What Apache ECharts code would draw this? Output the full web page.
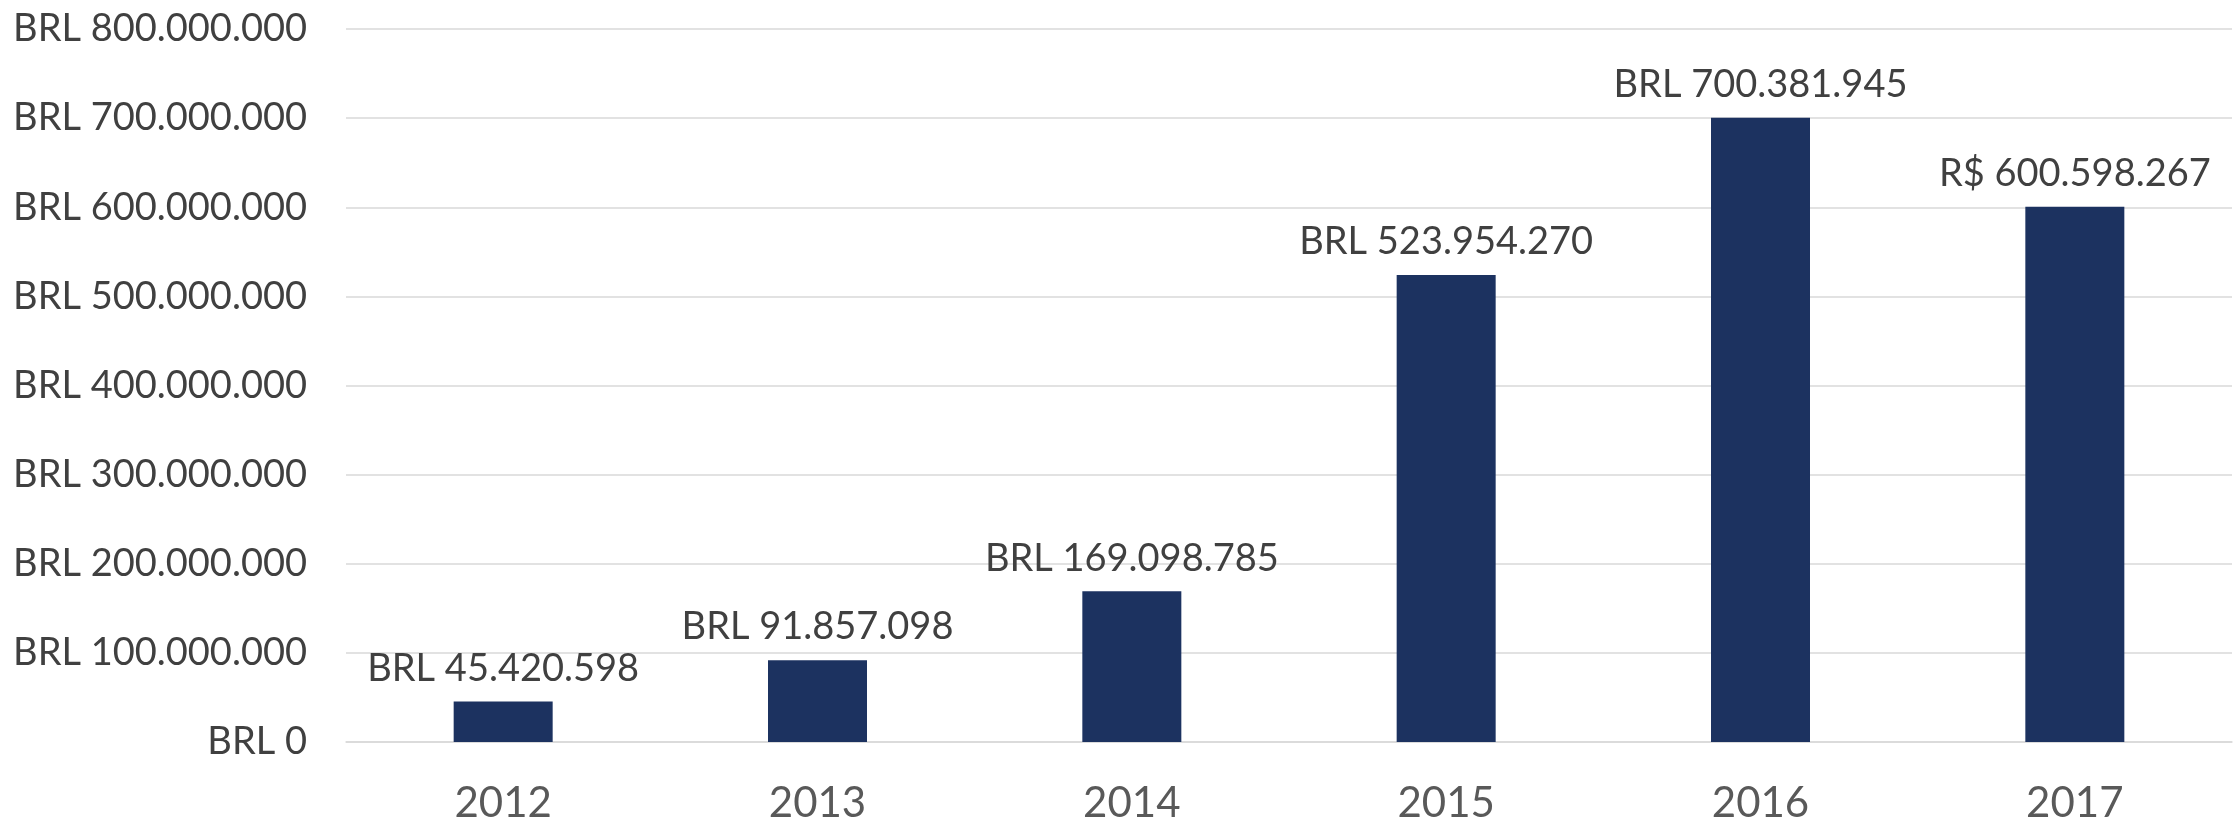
<!DOCTYPE html>
<html>
<head>
<meta charset="utf-8">
<script src="https://cdn.jsdelivr.net/npm/echarts@6/dist/echarts.min.js"></script>
<style>
html,body{margin:0;padding:0;background:#fff;}
#c{width:2237px;height:824px;}
</style>
</head>
<body>
<div id="c"></div>
<script>
var categories = ['2012', '2013', '2014', '2015', '2016', '2017'];
var values = [45420598, 91857098, 169098785, 523954270, 700381945, 600598267];
var labelPrefixes = ['BRL ', 'BRL ', 'BRL ', 'BRL ', 'BRL ', 'R$ '];
var yTickPrefix = 'BRL ';
var yMin = 0, yMax = 800000000, yStep = 100000000;

function fmt(n) {
  return String(Math.round(n)).replace(/\B(?=(\d{3})+(?!\d))/g, '.');
}

var chart = echarts.init(document.getElementById('c'), null, {renderer: 'canvas'});
chart.setOption({
  animation: false,
  backgroundColor: '#ffffff',
  textStyle: {fontFamily: 'Lato'},
  grid: {left: 346, right: 5, top: 29, bottom: 77, containLabel: false},
  xAxis: {
    type: 'category',
    data: categories,
    axisLine: {show: true, lineStyle: {color: '#d9d9d9', width: 1.5}},
    axisTick: {show: false},
    axisLabel: {color: '#595959', fontSize: 42, fontFamily: 'Lato', margin: 40}
  },
  yAxis: {
    type: 'value',
    min: yMin, max: yMax, interval: yStep,
    axisLine: {show: false},
    axisTick: {show: false},
    splitLine: {lineStyle: {color: '#d9d9d9', width: 1.5}},
    axisLabel: {
      color: '#404040', fontSize: 38, fontFamily: 'Lato', margin: 39,
      formatter: function (v) { return yTickPrefix + fmt(v); }
    }
  },
  series: [{
    type: 'bar',
    data: values,
    barWidth: 99,
    itemStyle: {color: '#1c3260'},
    label: {
      show: true,
      position: 'top',
      distance: 14,
      color: '#404040',
      fontSize: 38,
      fontFamily: 'Lato',
      formatter: function (p) { return labelPrefixes[p.dataIndex] + fmt(p.value); }
    }
  }]
});
</script>
</body>
</html>
